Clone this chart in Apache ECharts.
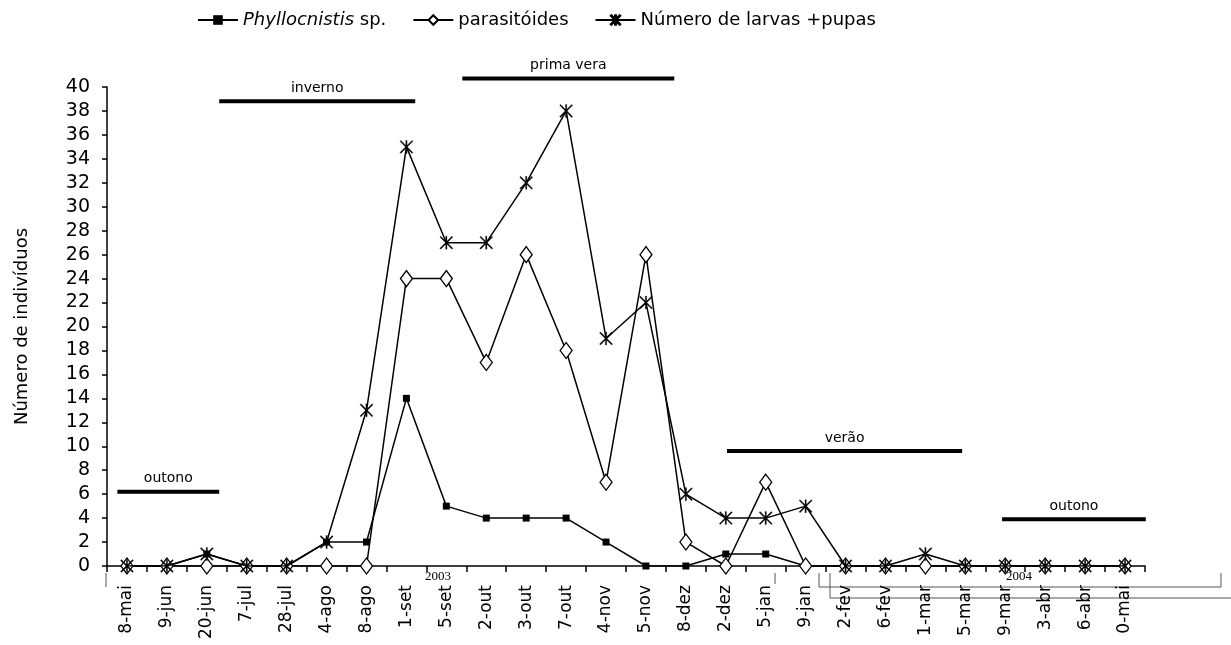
<!DOCTYPE html>
<html>
<head>
    <meta charset="utf-8">
    <title>Phyllocnistis sp. e parasitóides</title>
    <script src="https://cdn.jsdelivr.net/npm/echarts@6/dist/echarts.min.js"></script>
    <style>
        html, body { margin: 0; padding: 0; background: #fff; }
        #chart { width: 1231px; height: 645px; }
    </style>
</head>
<body>
<div id="chart"></div>
<script>
    // datas de coleta (rótulos do eixo x, como aparecem)
    var datas = ['8-mai', '9-jun', '20-jun', '7-jul', '28-jul', '4-ago', '8-ago', '1-set', '5-set', '2-out',
        '3-out', '7-out', '4-nov', '5-nov', '8-dez', '2-dez', '5-jan', '9-jan', '2-fev', '6-fev',
        '1-mar', '5-mar', '9-mar', '3-abr', '6-abr', '0-mai'];

    var phyllocnistis = [0, 0, 1, 0, 0, 2, 2, 14, 5, 4, 4, 4, 2, 0, 0, 1, 1, 0, 0, 0, 0, 0, 0, 0, 0, 0];
    var parasitoides = [0, 0, 0, 0, 0, 0, 0, 24, 24, 17, 26, 18, 7, 26, 2, 0, 7, 0, 0, 0, 0, 0, 0, 0, 0, 0];
    var larvasPupas = [0, 0, 1, 0, 0, 2, 13, 35, 27, 27, 32, 38, 19, 22, 6, 4, 4, 5, 0, 0, 1, 0, 0, 0, 0, 0];

    // estações: [início, fim (em posição de categoria), nível no eixo y, nome]
    var estacoes = [
        [-0.24, 2.31, 6.2, 'outono'],
        [2.31, 7.22, 38.8, 'inverno'],
        [8.40, 13.71, 40.7, 'prima vera'],
        [15.03, 20.92, 9.6, 'verão'],
        [21.92, 25.52, 3.9, 'outono']
    ];

    var fonte = 'DejaVu Sans';
    // asterisco (X + barra vertical)
    var asterisco = 'path://M9,0L11,0L11,20L9,20Z M0,1.4L1.4,0L20,18.6L18.6,20Z M18.6,0L20,1.4L1.4,20L0,18.6Z';

    var chart = echarts.init(document.getElementById('chart'));

    var option = {
        backgroundColor: '#fff',
        animation: false,
        legend: {
            left: 192,
            top: 6,
            itemWidth: 40,
            itemHeight: 12,
            itemGap: 26,
            textStyle: {
                fontFamily: fonte,
                fontSize: 18,
                color: '#000',
                rich: {
                    i: { fontFamily: fonte, fontSize: 18, fontStyle: 'italic', color: '#000' }
                }
            },
            formatter: function (name) {
                if (name === 'Phyllocnistis sp.') {
                    return '{i|Phyllocnistis} sp.';
                }
                return name;
            },
            data: ['Phyllocnistis sp.', 'parasitóides', 'Número de larvas +pupas']
        },
        grid: {
            left: 107,
            right: 86,
            top: 87,
            bottom: 79
        },
        xAxis: [
            {
                type: 'category',
                data: datas,
                boundaryGap: true,
                axisLine: { lineStyle: { color: '#000', width: 1.5 } },
                axisTick: { show: true, length: 6, lineStyle: { color: '#000', width: 1.5 } },
                axisLabel: {
                    rotate: 90,
                    margin: 19,
                    interval: 0,
                    color: '#000',
                    fontFamily: fonte,
                    fontSize: 17
                },
                splitLine: { show: false }
            },
            {
                // eixo auxiliar para as barras das estações
                type: 'value',
                min: -0.5,
                max: 25.5,
                show: false
            }
        ],
        yAxis: {
            type: 'value',
            min: 0,
            max: 40,
            interval: 2,
            name: 'Número de indivíduos',
            nameLocation: 'middle',
            nameRotate: 90,
            nameGap: 76,
            nameTextStyle: { fontFamily: fonte, fontSize: 18, color: '#000' },
            axisLine: { show: true, onZero: false, lineStyle: { color: '#000', width: 1.5 } },
            axisTick: { show: true, length: 5, lineStyle: { color: '#000', width: 1.5 } },
            axisLabel: { margin: 17, color: '#000', fontFamily: fonte, fontSize: 19 },
            splitLine: { show: false }
        },
        graphic: [
            { type: 'text', left: 425, top: 570, style: { text: '2003', font: '13px "Liberation Serif"', fill: '#000' } },
            { type: 'text', left: 1006, top: 570, style: { text: '2004', font: '13px "Liberation Serif"', fill: '#000' } },
            { type: 'polyline', shape: { points: [[106, 573], [106, 587]] }, style: { stroke: '#555', lineWidth: 1, fill: null } },
            { type: 'polyline', shape: { points: [[775, 573], [775, 584]] }, style: { stroke: '#555', lineWidth: 1, fill: null } },
            { type: 'polyline', shape: { points: [[819, 573], [819, 587], [1221, 587], [1221, 573]] }, style: { stroke: '#555', lineWidth: 1, fill: null } },
            { type: 'polyline', shape: { points: [[830, 573], [830, 598], [1231, 598]] }, style: { stroke: '#555', lineWidth: 1, fill: null } }
        ],
        series: [
            {
                name: 'Phyllocnistis sp.',
                type: 'line',
                data: phyllocnistis,
                symbol: 'rect',
                symbolSize: 7,
                lineStyle: { color: '#000', width: 1.5 },
                itemStyle: { color: '#000' },
                z: 3
            },
            {
                name: 'parasitóides',
                type: 'line',
                data: parasitoides,
                symbol: 'diamond',
                symbolSize: [12, 16],
                lineStyle: { color: '#000', width: 1.5 },
                itemStyle: { color: '#fff', borderColor: '#000', borderWidth: 1.3 },
                z: 4
            },
            {
                name: 'Número de larvas +pupas',
                type: 'line',
                data: larvasPupas,
                symbol: asterisco,
                symbolSize: 13,
                lineStyle: { color: '#000', width: 1.5 },
                itemStyle: { color: '#000', borderColor: '#000', borderWidth: 0.3 },
                z: 5
            },
            {
                name: 'estacoes',
                type: 'custom',
                xAxisIndex: 1,
                yAxisIndex: 0,
                clip: false,
                silent: true,
                encode: { x: [0, 1], y: 2 },
                data: estacoes,
                renderItem: function (params, api) {
                    var p1 = api.coord([api.value(0), api.value(2)]);
                    var p2 = api.coord([api.value(1), api.value(2)]);
                    return {
                        type: 'group',
                        children: [
                            {
                                type: 'line',
                                shape: { x1: p1[0], y1: p1[1], x2: p2[0], y2: p2[1] },
                                style: { stroke: '#000', lineWidth: 4 }
                            },
                            {
                                type: 'text',
                                x: (p1[0] + p2[0]) / 2,
                                y: p1[1] - 6,
                                style: {
                                    text: api.value(3),
                                    font: '14px "DejaVu Sans"',
                                    fill: '#000',
                                    align: 'center',
                                    verticalAlign: 'bottom'
                                }
                            }
                        ]
                    };
                }
            }
        ]
    };

    chart.setOption(option);
</script>
</body>
</html>
